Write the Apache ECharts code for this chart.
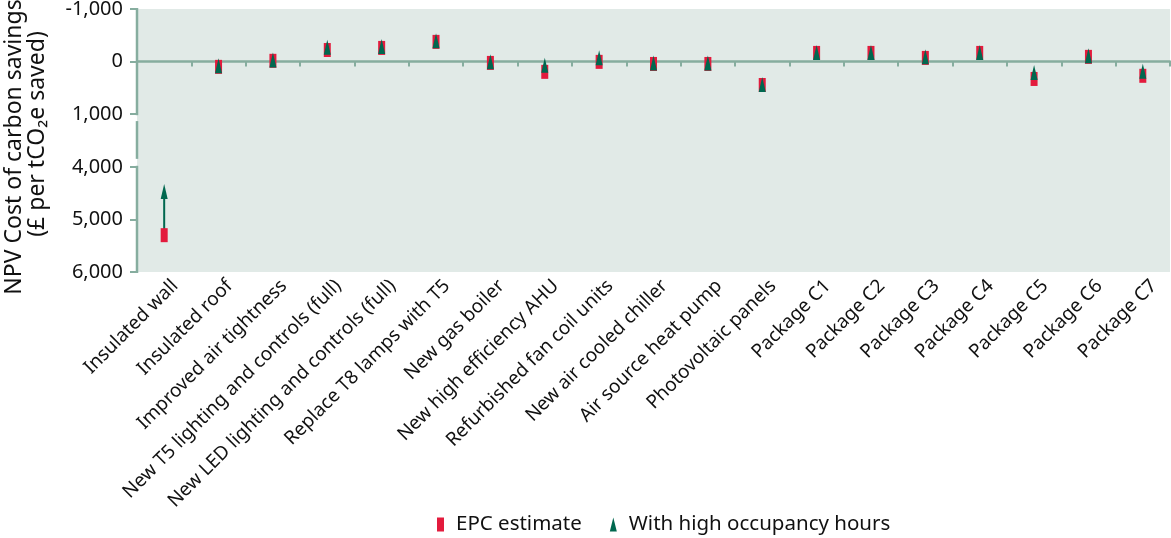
<!DOCTYPE html>
<html><head><meta charset="utf-8">
<script src="https://cdn.jsdelivr.net/npm/echarts@6/dist/echarts.min.js"></script>
<style>html,body{margin:0;padding:0;background:#fff}#c{width:1171px;height:538px}</style>
</head><body><div id="c"></div>
<script>
const categories = ['Insulated wall','Insulated roof','Improved air tightness','New T5 lighting and controls (full)','New LED lighting and controls (full)','Replace T8 lamps with T5','New gas boiler','New high efficiency AHU','Refurbished fan coil units','New air cooled chiller','Air source heat pump','Photovoltaic panels','Package C1','Package C2','Package C3','Package C4','Package C5','Package C6','Package C7'];
const epcEstimate   = [5300, 100, -15, -220, -260, -375, 25, 195, 5, 45, 45, 445, -165, -165, -70, -165, 330, -90, 270];
const highOccupancy = [4470, 80, -30, -275, -285, -395, 5, 70, -75, 25, 25, 435, -175, -175, -90, -175, 205, -110, 185];
const yTickLabels = ['-1,000', '0', '1,000', '4,000', '5,000', '6,000'];
const seriesNames = ['EPC estimate', 'With high occupancy hours'];
const yAxisTitle = ['NPV Cost of carbon savings', '(£ per tCO₂e saved)'];

// Broken value axis: 1,000 .. 4,000 is collapsed into one tick step
const BREAK_LOW = 1000, BREAK_HIGH = 4000, BREAK_GAP = 1000;
function toAxis(v) { return v <= BREAK_LOW ? v : v - (BREAK_HIGH - BREAK_LOW) + BREAK_GAP; }

const RED = '#e31b3d', GREEN = '#00684f', AXIS = '#86ad9f', BG = '#e1eae7', TXT = '#111';
const FONT = 'Noto Sans';

const chart = echarts.init(document.getElementById('c'), null, { renderer: 'canvas' });

// arrow shaft(s) where the EPC value lies in the lower band
const arrowData = [];
epcEstimate.forEach((v, i) => {
  if (v > BREAK_LOW) { arrowData.push([i, toAxis(v)], [i, toAxis(highOccupancy[i])]); }
});

// y-axis line pieces (axis units) around the break: [category, from, to]
const axisSegments = [
  [0, -1000, BREAK_LOW],
  [0, BREAK_LOW + 0.15 * BREAK_GAP, BREAK_LOW + 0.83 * BREAK_GAP],
  [0, toAxis(BREAK_HIGH), 4000]
];

chart.setOption({
  animation: false,
  textStyle: { fontFamily: FONT },
  grid: { show: true, backgroundColor: BG, borderWidth: 0,
    left: 137, right: 1, top: 9, bottom: 266, containLabel: false, outerBoundsMode: 'none' },
  graphic: [
    { type: 'text', x: 14, y: 147, rotation: Math.PI / 2, silent: true,
      style: { text: yAxisTitle[0], font: '23px "Noto Sans"', fill: TXT, align: 'center', verticalAlign: 'middle' } },
    { type: 'text', x: 37, y: 134, rotation: Math.PI / 2, silent: true,
      style: { text: yAxisTitle[1], font: '23px "Noto Sans"', fill: TXT, align: 'center', verticalAlign: 'middle' } }
  ],
  xAxis: [
    { type: 'category', data: categories, position: 'bottom',
      axisLine: { show: false, onZero: false }, axisTick: { show: false },
      axisLabel: { rotate: 45, interval: 0, margin: 0, fontSize: 19, color: TXT, fontFamily: FONT,
        verticalAlign: 'top', padding: [6, 0, 0, 0] } },
    { type: 'category', data: categories, position: 'bottom',
      axisLine: { show: true, onZero: true, lineStyle: { color: AXIS, width: 2.5 } },
      axisTick: { show: true, interval: 0, length: 5, lineStyle: { color: AXIS, width: 2 } },
      axisLabel: { show: false, interval: 0 }, splitLine: { show: false } }
  ],
  yAxis: {
    type: 'value', inverse: true, min: -1000, max: 4000, interval: 1000,
    axisLine: { show: false },
    axisTick: { show: true, length: 7, lineStyle: { color: AXIS, width: 2 } },
    splitLine: { show: false },
    axisLabel: { margin: 14, fontSize: 20, color: TXT, fontFamily: FONT,
      formatter: v => yTickLabels[Math.round((v + 1000) / 1000)] }
  },
  legend: {
    data: seriesNames, left: 437, top: 514, padding: 0, itemGap: 28,
    itemWidth: 7, itemHeight: 14,
    textStyle: { fontSize: 20.5, color: TXT, fontFamily: FONT, padding: [0, 0, 0, 7] }
  },
  series: [
    { type: 'custom', xAxisIndex: 0, silent: true, clip: false, z: 10,
      encode: { x: 0, y: [1, 2] },
      data: axisSegments,
      renderItem: (params, api) => {
        const x = params.coordSys.x;
        const y1 = api.coord([api.value(0), api.value(1)])[1];
        const y2 = api.coord([api.value(0), api.value(2)])[1];
        return { type: 'line', shape: { x1: x, y1: y1 - 1, x2: x, y2: y2 + 1 },
                 style: { stroke: AXIS, lineWidth: 2.5 } };
      } },
    { type: 'line', xAxisIndex: 0, data: arrowData, symbol: 'none', silent: true,
      lineStyle: { color: GREEN, width: 2 }, z: 1 },
    { name: seriesNames[0], type: 'scatter', xAxisIndex: 0, symbol: 'rect', symbolSize: [7, 14],
      itemStyle: { color: RED, opacity: 1 }, data: epcEstimate.map(toAxis), z: 2 },
    { name: seriesNames[1], type: 'scatter', xAxisIndex: 0, symbol: 'triangle', symbolSize: [7, 15],
      itemStyle: { color: GREEN, opacity: 1 }, data: highOccupancy.map(toAxis), z: 3 }
  ]
});
</script>
</body></html>
